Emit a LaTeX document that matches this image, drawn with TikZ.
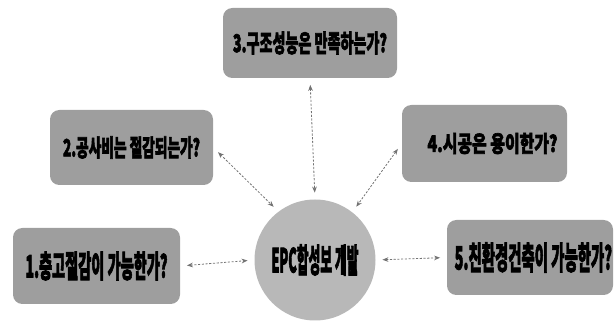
\documentclass[tikz,border=0pt]{standalone}
\usepackage{fontspec}
\usepackage{graphicx}
\newfontfamily\kr{Noto Sans CJK KR}[FakeBold=3]
\usetikzlibrary{arrows.meta}
\newcommand\lbl[3]{\resizebox{#1pt}{#2pt}{\kr\bfseries #3}}
\tikzset{
  qbox/.style={fill=black!38, draw=none, rounded corners=7pt, inner sep=0pt},
  hub/.style={circle, fill=black!28, draw=none, inner sep=0pt, minimum size=90.75pt},
  link/.style={draw=black!55, line width=0.6pt, dash pattern=on 1.6pt off 1.2pt,
    {Stealth[length=4.5pt,width=3.5pt]}-{Stealth[length=4.5pt,width=3.5pt]},
    shorten <=5pt, shorten >=5pt}
}
\begin{document}
\begin{tikzpicture}[x=0.75pt,y=-0.75pt]
\useasboundingbox (0,0) rectangle (614,323);
\node[qbox, minimum width=130.5pt, minimum height=52.5pt] (b3) at (310,43)
  {\lbl{115.5}{15.5}{3.구조성능은 만족하는가?}};
\node[qbox, minimum width=122.25pt, minimum height=56.25pt] (b2) at (131.5,147.5)
  {\lbl{102.75}{15}{2.공사비는 절감되는가?}};
\node[qbox, minimum width=123.75pt, minimum height=57.75pt] (b4) at (484.5,143.5)
  {\hspace*{12pt}\lbl{97.5}{14.25}{4.시공은 용이한가?}};
\node[qbox, minimum width=125.25pt, minimum height=57pt] (b1) at (96.5,266)
  {\lbl{106.5}{19.5}{1.층고절감이 가능한가?}};
\node[qbox, minimum width=124.5pt, minimum height=56.25pt] (b5) at (530,257.5)
  {\hspace*{5pt}\lbl{118}{20.25}{5.친환경건축이 가능한가?}};
\node[hub] (c) at (315,260) {\lbl{65.25}{21}{EPC합성보 개발}};
\draw[link] (b1.east) -- (c.west);
\draw[link] (c.east) -- (b5.west);
\draw[link] (b3.south) -- (c.north);
\draw[link] (b2.east) -- (c.127);
\draw[link] (b4.west) -- (c.52);
\end{tikzpicture}
\end{document}
